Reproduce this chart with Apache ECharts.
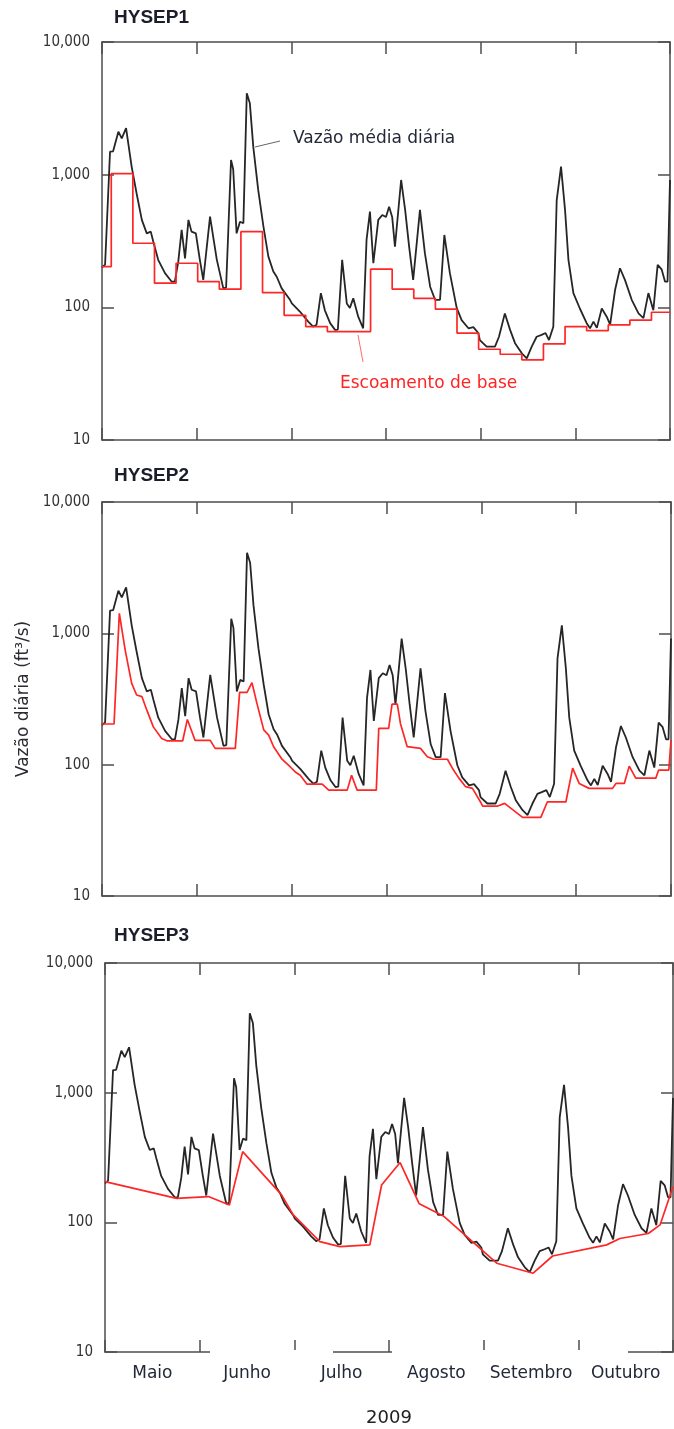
<!DOCTYPE html>
<html>
<head>
<meta charset="utf-8">
<script src="https://cdn.jsdelivr.net/npm/echarts@6/dist/echarts.min.js"></script>
<style>
html, body { margin: 0; padding: 0; background: #fff; }
#chart { width: 674px; height: 1429px; }
</style>
</head>
<body>
<div id="chart"></div>
<script>
var months = ['Maio', 'Junho', 'Julho', 'Agosto', 'Setembro', 'Outubro'];
var panelTitles = ['HYSEP1', 'HYSEP2', 'HYSEP3'];

// vazao media diaria, dias contados a partir de 1 de maio de 2009
var flowDay = [0, 1, 2.6, 3.6, 5.3, 6.4, 7.8, 9.6, 11.2, 12.9,
    14.5, 15.8, 16.6, 18.2, 20.4, 22.6, 23.6, 24.7, 25.8, 26.9,
    28, 29, 30.4, 31.7, 32.8, 35, 37.2, 39.3, 40.2, 41.8,
    42.5, 43.6, 44.7, 45.8, 46.9, 47.9, 49, 50.6, 52.3, 53.9,
    55.5, 56.6, 58.2, 60.9, 61.5, 64.1, 66.8, 68.4, 69.5, 70.9,
    72.2, 73.9, 75.5, 76.4, 77.8, 79.3, 80.3, 81.4, 83, 84.6,
    85.7, 86.8, 87.9, 89.5, 90.8, 92, 93, 94, 94.9, 96.9,
    98.2, 99.5, 100.8, 103, 104.6, 106.3, 107.9, 109.5, 110.9, 112.7,
    114.9, 116.5, 118.7, 120.3, 121.9, 122.4, 124.6, 127.3, 128.6, 130.5,
    132.2, 133.8, 136, 137.6, 139.2, 140.8, 142.4, 143.7, 144.8, 146.2,
    147.3, 148.7, 150, 151.1, 152.7, 154.8, 157, 158.1, 159.2, 160.3,
    161.9, 163.5, 164.6, 166.2, 167.8, 169.4, 171.6, 173.8, 175.4, 177,
    178.6, 180, 181.3, 182.4, 183.2, 184];
var flowValue = [200, 210, 1490, 1500, 2110, 1880, 2240, 1150, 724, 456,
    361, 372, 313, 228, 181, 156, 156, 220, 383, 234,
    456, 372, 361, 228, 161, 483, 228, 139, 141, 1291,
    1100, 361, 442, 430, 4100, 3450, 1625, 767, 406, 241,
    186, 170, 139, 114, 107, 93, 78, 71.5, 74, 128,
    95, 76, 67.6, 68, 228, 107, 99, 117, 85, 69.5,
    322, 526, 215, 456, 497, 480, 574, 480, 286, 912,
    542, 286, 161, 542, 256, 143, 114, 114, 351, 181,
    99, 80, 69.5, 71, 64, 56.7, 50.6, 50.6, 60, 90,
    67.6, 53.7, 45, 41.3, 50.6, 60, 62, 64, 56.7, 71.5,
    644, 1150, 542, 228, 128, 98, 76, 69.5, 78, 70,
    98, 85, 74, 135, 197, 161, 114, 90, 83, 128,
    95, 209, 193, 156, 156, 912];

// HYSEP1 - intervalo fixo (degraus)
var fixedDay = [0, 3, 10, 17, 24, 31, 38, 45, 52, 59, 66, 73, 87, 94,
    101, 108, 115, 122, 129, 136, 143, 150, 157, 164, 171, 178, 184];
var fixedValue = [203, 1020, 304, 152, 215, 156, 137, 372, 129, 87, 71.6, 65.6, 194, 137,
    117, 97, 64, 48.3, 44.3, 40.2, 53, 71.6, 66.7, 73.7, 80, 91.8, 91.8];

// HYSEP2 - intervalo movel
var slideDay = [0, 3.9, 5.6, 7.5, 9.6, 11.2, 12.9, 14.5, 16.6, 19.3,
    21, 26.1, 27.6, 30.1, 35, 36.6, 43.1, 44.5, 46.9, 48.5,
    50.1, 52.3, 53.9, 55.5, 58.2, 60.9, 62.5, 64.1, 66.3, 71.2,
    73.3, 79.3, 80.7, 82.5, 88.7, 89.5, 92.7, 93.8, 95.5, 96.5,
    98.7, 103, 105.2, 107.3, 111.7, 113.3, 115.4, 117.6, 119.8, 122.4,
    123.1, 128, 130.2, 136, 141.9, 144, 150, 152.2, 154.3, 157.5,
    165.1, 166.2, 168.9, 170.5, 172.6, 179.1, 180, 183.3, 184];
var slideValue = [204, 204, 1420, 746, 416, 339, 330, 260, 194, 158,
    152, 152, 221, 153, 153, 133, 133, 355, 355, 421,
    293, 184, 168, 137, 110, 96, 88, 83, 71, 71,
    64, 64, 83, 64, 64, 189, 189, 289, 289, 206,
    137, 133, 115, 110, 110, 94, 79, 68, 66, 52,
    48.4, 48.4, 50.7, 39.7, 39.7, 52, 52, 94, 72, 66,
    66, 72, 72, 97.5, 79, 79, 91, 91, 154];

// HYSEP3 - minimo local
var localDay = [0, 23.2, 33.5, 40.3, 44.6, 57.2, 61, 69.6, 76.1, 85.8, 89.6,
    95.6, 101.8, 109.6, 126.9, 138.7, 145, 162.5, 166.8, 176, 179.8, 184];
var localValue = [206, 153, 158, 136, 351, 163, 114, 71, 65, 67, 194,
    289, 139, 112, 48.4, 40.5, 55, 67, 75, 82, 95.5, 188];

function pairs(days, values){
    return days.map(function(d, i){
        return [d, values[i]];
    });
}

var grids = [
    {left: 102, top: 42, width: 568, height: 398},
    {left: 102, top: 502, width: 569, height: 394},
    {left: 105, top: 963, width: 568, height: 389}
];
var titleTop = [8, 466, 926];
var baseData = [pairs(fixedDay, fixedValue), pairs(slideDay, slideValue), pairs(localDay, localValue)];
var frame = {color: '#4d4d4d', width: 1.5};
var textFont = 'DejaVu Sans';
var xAxes = [], yAxes = [], series = [], titles = [];

grids.forEach(function(g, i){
    var last = i === grids.length - 1;
    xAxes.push({type: 'value', gridIndex: i, min: 0, max: 184, show: false});
    xAxes.push({
        type: 'category', gridIndex: i, position: 'bottom', data: months, boundaryGap: true,
        axisLine: {show: true, lineStyle: frame},
        axisTick: {show: true, inside: true, length: 12, interval: 0, lineStyle: frame},
        axisLabel: {show: last, interval: 0, margin: 13, fontSize: 17, fontFamily: textFont, color: '#232838'},
        splitLine: {show: false},
        name: last ? '2009' : '', nameLocation: 'middle', nameGap: 57,
        nameTextStyle: {fontSize: 18, fontFamily: textFont, color: '#222'}
    });
    xAxes.push({
        type: 'category', gridIndex: i, position: 'top', data: months, boundaryGap: true,
        axisLine: {show: true, lineStyle: frame},
        axisTick: {show: true, inside: true, length: 12, interval: 0, lineStyle: frame},
        axisLabel: {show: false, interval: 0},
        splitLine: {show: false}
    });
    yAxes.push({
        type: 'log', logBase: 10, gridIndex: i, position: 'left', min: 10, max: 10000,
        axisLine: {show: true, lineStyle: frame},
        axisTick: {show: true, inside: true, length: 12, lineStyle: frame},
        minorTick: {show: false},
        axisLabel: {
            margin: 12, fontSize: 15, color: '#333',
            fontFamily: "'Liberation Sans Narrow', 'DejaVu Sans Condensed', sans-serif",
            formatter: function(v){
                return String(Math.round(v)).replace(/\B(?=(\d{3})+(?!\d))/g, ',');
            }
        },
        splitLine: {show: false},
        name: i === 1 ? 'Vazão diária (ft³/s)' : '', nameLocation: 'middle', nameGap: 70, nameRotate: 90,
        nameTextStyle: {fontSize: 17, fontFamily: textFont, color: '#2b2b33'}
    });
    yAxes.push({
        type: 'log', logBase: 10, gridIndex: i, position: 'right', min: 10, max: 10000,
        axisLine: {show: true, lineStyle: frame},
        axisTick: {show: true, inside: true, length: 12, lineStyle: frame},
        axisLabel: {show: false},
        splitLine: {show: false}
    });
    series.push({
        type: 'line', xAxisIndex: 3 * i, yAxisIndex: 2 * i,
        data: pairs(flowDay, flowValue), showSymbol: false,
        lineStyle: {color: '#262626', width: 1.8}, z: 2
    });
    series.push({
        type: 'line', xAxisIndex: 3 * i, yAxisIndex: 2 * i,
        data: baseData[i], showSymbol: false, step: i === 0 ? 'end' : false,
        lineStyle: {color: '#ff2626', width: 1.7}, z: 3
    });
    titles.push({
        text: panelTitles[i], left: 114, top: titleTop[i], padding: 0,
        textStyle: {fontSize: 19, fontWeight: 'bold', fontFamily: 'Liberation Sans', color: '#1b1d2b'}
    });
});

var chart = echarts.init(document.getElementById('chart'));
chart.setOption({
    animation: false,
    backgroundColor: '#fff',
    title: titles,
    grid: grids,
    xAxis: xAxes,
    yAxis: yAxes,
    series: series,
    graphic: [
        {type: 'line', shape: {x1: 255, y1: 147, x2: 280, y2: 141}, style: {stroke: '#666', lineWidth: 1}},
        {type: 'text', left: 293, top: 130, style: {text: 'Vazão média diária', font: '17px "DejaVu Sans"', fill: '#242838'}},
        {type: 'line', shape: {x1: 358, y1: 335, x2: 363, y2: 362}, style: {stroke: '#ff6a6a', lineWidth: 1}},
        {type: 'text', left: 340, top: 375, style: {text: 'Escoamento de base', font: '17px "DejaVu Sans"', fill: '#ff2424'}},
        // trechos sem linha na base do terceiro quadro
        {type: 'rect', shape: {x: 210, y: 1350, width: 123, height: 4}, style: {fill: '#fff'}, z: 100},
        {type: 'rect', shape: {x: 392, y: 1350, width: 236, height: 4}, style: {fill: '#fff'}, z: 100}
    ]
});
</script>
</body>
</html>
